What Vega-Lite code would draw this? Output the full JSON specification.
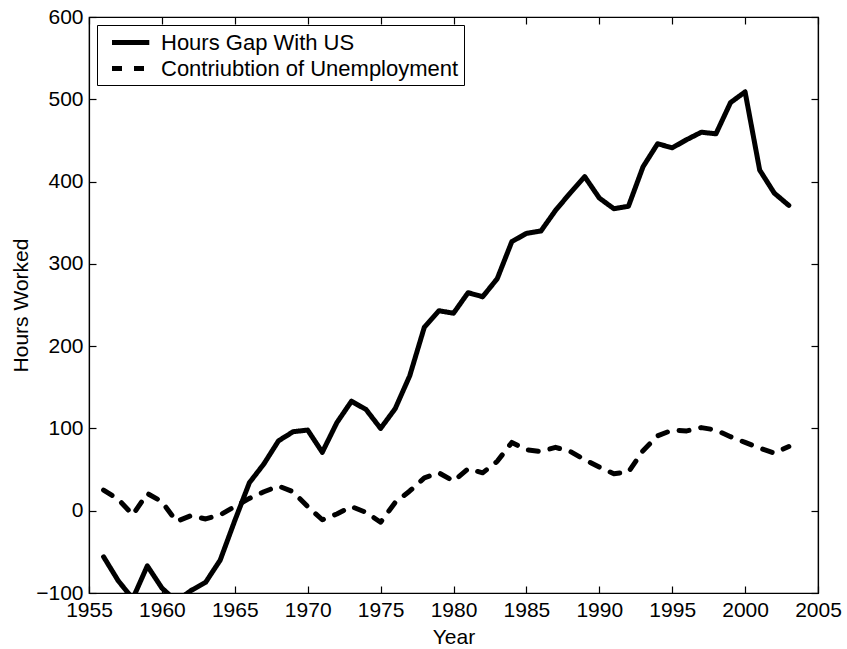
{
  "$schema": "https://vega.github.io/schema/vega-lite/v6.json",
  "width": 729,
  "height": 576,
  "autosize": "none",
  "padding": {"left": 89, "top": 17, "right": 29, "bottom": 56},
  "background": "white",
  "config": {
    "font": "Liberation Sans",
    "view": {"stroke": "black", "strokeWidth": 1.2},
    "axis": {
      "grid": false,
      "domainColor": "black",
      "domainWidth": 1.2,
      "tickColor": "black",
      "tickWidth": 1.2,
      "tickSize": -7,
      "labelFont": "Liberation Sans",
      "labelFontSize": 21,
      "labelColor": "black",
      "titleFont": "Liberation Sans",
      "titleFontSize": 21,
      "titleFontWeight": "normal",
      "titleColor": "black",
      "labelPadding": 13
    }
  },
  "datasets": {
    "hours": [
      {"year": 1956, "series": "Hours Gap With US", "value": -56},
      {"year": 1957, "series": "Hours Gap With US", "value": -85},
      {"year": 1958, "series": "Hours Gap With US", "value": -107},
      {"year": 1959, "series": "Hours Gap With US", "value": -67},
      {"year": 1960, "series": "Hours Gap With US", "value": -94},
      {"year": 1961, "series": "Hours Gap With US", "value": -110},
      {"year": 1962, "series": "Hours Gap With US", "value": -97},
      {"year": 1963, "series": "Hours Gap With US", "value": -87},
      {"year": 1964, "series": "Hours Gap With US", "value": -60},
      {"year": 1965, "series": "Hours Gap With US", "value": -12},
      {"year": 1966, "series": "Hours Gap With US", "value": 34},
      {"year": 1967, "series": "Hours Gap With US", "value": 57},
      {"year": 1968, "series": "Hours Gap With US", "value": 85},
      {"year": 1969, "series": "Hours Gap With US", "value": 96},
      {"year": 1970, "series": "Hours Gap With US", "value": 98},
      {"year": 1971, "series": "Hours Gap With US", "value": 71},
      {"year": 1972, "series": "Hours Gap With US", "value": 107},
      {"year": 1973, "series": "Hours Gap With US", "value": 133},
      {"year": 1974, "series": "Hours Gap With US", "value": 123},
      {"year": 1975, "series": "Hours Gap With US", "value": 100},
      {"year": 1976, "series": "Hours Gap With US", "value": 124},
      {"year": 1977, "series": "Hours Gap With US", "value": 164},
      {"year": 1978, "series": "Hours Gap With US", "value": 223},
      {"year": 1979, "series": "Hours Gap With US", "value": 243},
      {"year": 1980, "series": "Hours Gap With US", "value": 240},
      {"year": 1981, "series": "Hours Gap With US", "value": 265},
      {"year": 1982, "series": "Hours Gap With US", "value": 260},
      {"year": 1983, "series": "Hours Gap With US", "value": 282},
      {"year": 1984, "series": "Hours Gap With US", "value": 327},
      {"year": 1985, "series": "Hours Gap With US", "value": 337},
      {"year": 1986, "series": "Hours Gap With US", "value": 340},
      {"year": 1987, "series": "Hours Gap With US", "value": 365},
      {"year": 1988, "series": "Hours Gap With US", "value": 386},
      {"year": 1989, "series": "Hours Gap With US", "value": 406},
      {"year": 1990, "series": "Hours Gap With US", "value": 380},
      {"year": 1991, "series": "Hours Gap With US", "value": 367},
      {"year": 1992, "series": "Hours Gap With US", "value": 370},
      {"year": 1993, "series": "Hours Gap With US", "value": 418},
      {"year": 1994, "series": "Hours Gap With US", "value": 446},
      {"year": 1995, "series": "Hours Gap With US", "value": 441},
      {"year": 1996, "series": "Hours Gap With US", "value": 451},
      {"year": 1997, "series": "Hours Gap With US", "value": 460},
      {"year": 1998, "series": "Hours Gap With US", "value": 458},
      {"year": 1999, "series": "Hours Gap With US", "value": 496},
      {"year": 2000, "series": "Hours Gap With US", "value": 509},
      {"year": 2001, "series": "Hours Gap With US", "value": 414},
      {"year": 2002, "series": "Hours Gap With US", "value": 386},
      {"year": 2003, "series": "Hours Gap With US", "value": 371},
      {"year": 1956, "series": "Contriubtion of Unemployment", "value": 25},
      {"year": 1957, "series": "Contriubtion of Unemployment", "value": 14},
      {"year": 1958, "series": "Contriubtion of Unemployment", "value": -5},
      {"year": 1959, "series": "Contriubtion of Unemployment", "value": 21},
      {"year": 1960, "series": "Contriubtion of Unemployment", "value": 11},
      {"year": 1961, "series": "Contriubtion of Unemployment", "value": -13},
      {"year": 1962, "series": "Contriubtion of Unemployment", "value": -6},
      {"year": 1963, "series": "Contriubtion of Unemployment", "value": -10},
      {"year": 1964, "series": "Contriubtion of Unemployment", "value": -5},
      {"year": 1965, "series": "Contriubtion of Unemployment", "value": 5},
      {"year": 1966, "series": "Contriubtion of Unemployment", "value": 15},
      {"year": 1967, "series": "Contriubtion of Unemployment", "value": 23},
      {"year": 1968, "series": "Contriubtion of Unemployment", "value": 30},
      {"year": 1969, "series": "Contriubtion of Unemployment", "value": 23},
      {"year": 1970, "series": "Contriubtion of Unemployment", "value": 5},
      {"year": 1971, "series": "Contriubtion of Unemployment", "value": -11},
      {"year": 1972, "series": "Contriubtion of Unemployment", "value": -4},
      {"year": 1973, "series": "Contriubtion of Unemployment", "value": 5},
      {"year": 1974, "series": "Contriubtion of Unemployment", "value": -2},
      {"year": 1975, "series": "Contriubtion of Unemployment", "value": -14},
      {"year": 1976, "series": "Contriubtion of Unemployment", "value": 10},
      {"year": 1977, "series": "Contriubtion of Unemployment", "value": 24},
      {"year": 1978, "series": "Contriubtion of Unemployment", "value": 40},
      {"year": 1979, "series": "Contriubtion of Unemployment", "value": 46},
      {"year": 1980, "series": "Contriubtion of Unemployment", "value": 36},
      {"year": 1981, "series": "Contriubtion of Unemployment", "value": 51},
      {"year": 1982, "series": "Contriubtion of Unemployment", "value": 46},
      {"year": 1983, "series": "Contriubtion of Unemployment", "value": 60},
      {"year": 1984, "series": "Contriubtion of Unemployment", "value": 83},
      {"year": 1985, "series": "Contriubtion of Unemployment", "value": 74},
      {"year": 1986, "series": "Contriubtion of Unemployment", "value": 72},
      {"year": 1987, "series": "Contriubtion of Unemployment", "value": 77},
      {"year": 1988, "series": "Contriubtion of Unemployment", "value": 72},
      {"year": 1989, "series": "Contriubtion of Unemployment", "value": 62},
      {"year": 1990, "series": "Contriubtion of Unemployment", "value": 53},
      {"year": 1991, "series": "Contriubtion of Unemployment", "value": 45},
      {"year": 1992, "series": "Contriubtion of Unemployment", "value": 47},
      {"year": 1993, "series": "Contriubtion of Unemployment", "value": 73},
      {"year": 1994, "series": "Contriubtion of Unemployment", "value": 91},
      {"year": 1995, "series": "Contriubtion of Unemployment", "value": 98},
      {"year": 1996, "series": "Contriubtion of Unemployment", "value": 97},
      {"year": 1997, "series": "Contriubtion of Unemployment", "value": 101},
      {"year": 1998, "series": "Contriubtion of Unemployment", "value": 98},
      {"year": 1999, "series": "Contriubtion of Unemployment", "value": 90},
      {"year": 2000, "series": "Contriubtion of Unemployment", "value": 83},
      {"year": 2001, "series": "Contriubtion of Unemployment", "value": 76},
      {"year": 2002, "series": "Contriubtion of Unemployment", "value": 70},
      {"year": 2003, "series": "Contriubtion of Unemployment", "value": 78}
    ]
  },
  "data": {"name": "hours"},
  "resolve": {"axis": {"x": "independent", "y": "independent"}},
  "layer": [
    {
      "mark": {"type": "line", "color": "black", "strokeWidth": 5, "strokeCap": "round", "strokeJoin": "round", "clip": true},
      "encoding": {
        "x": {
          "field": "year", "type": "quantitative",
          "scale": {"domain": [1955, 2005], "nice": false, "zero": false},
          "axis": {"orient": "bottom", "title": "Year", "values": [1955, 1960, 1965, 1970, 1975, 1980, 1985, 1990, 1995, 2000, 2005], "format": "d", "labelFlush": false, "titlePadding": 6}
        },
        "y": {
          "field": "value", "type": "quantitative",
          "scale": {"domain": [-100, 600], "nice": false, "zero": false},
          "axis": {"orient": "left", "title": "Hours Worked", "values": [-100, 0, 100, 200, 300, 400, 500, 600], "labelFlush": false, "titlePadding": 4}
        },
        "strokeDash": {
          "field": "series", "type": "nominal",
          "scale": {"domain": ["Hours Gap With US", "Contriubtion of Unemployment"], "range": [[1, 0], [10, 12]]},
          "legend": {
            "orient": "none", "legendX": 8, "legendY": 8, "title": null,
            "strokeColor": "black", "fillColor": "white", "padding": 5,
            "symbolType": "M-0.25,0H3.48", "symbolStrokeWidth": 5, "symbolSize": 400,
            "symbolStrokeColor": "black", "symbolFillColor": "transparent",
            "labelFontSize": 22, "labelFont": "Liberation Sans",
            "labelColor": "black", "labelOffset": 34, "rowPadding": 2, "labelLimit": 500,
            "labelExpr": "datum.label + '\\u00a0\\u00a0\\u00a0\\u00a0'"
          }
        }
      }
    },
    {
      "mark": {"type": "line", "opacity": 0},
      "encoding": {
        "x": {
          "field": "year", "type": "quantitative",
          "axis": {"orient": "top", "title": null, "labels": false, "values": [1955, 1960, 1965, 1970, 1975, 1980, 1985, 1990, 1995, 2000, 2005]}
        },
        "y": {
          "field": "value", "type": "quantitative",
          "axis": {"orient": "right", "title": null, "labels": false, "values": [-100, 0, 100, 200, 300, 400, 500, 600]}
        },
        "detail": {"field": "series"}
      }
    }
  ]
}
